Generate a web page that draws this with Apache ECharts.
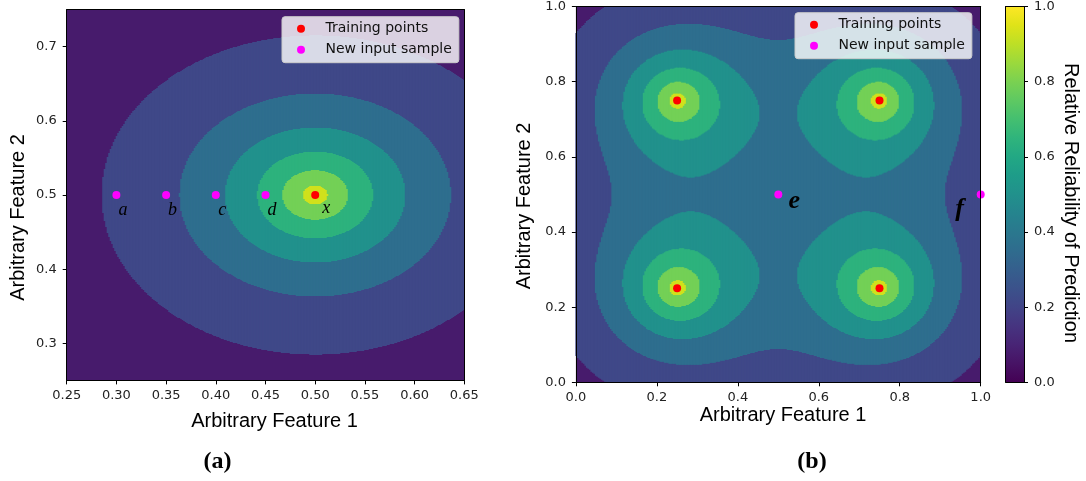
<!DOCTYPE html>
<html>
<head>
<meta charset="utf-8">
<script src="https://cdn.jsdelivr.net/npm/echarts@6/dist/echarts.min.js"></script>
<style>
  html, body { margin: 0; padding: 0; background: #fff; }
  #main { width: 1086px; height: 481px; }
</style>
</head>
<body>
<div id="main"></div>
<script>
// panel (a): one training point, new samples a-d on the line y = 0.5
const trainA = [[0.5, 0.5]];
const trainNamesA = ['x'];
const samplesA = [[0.30, 0.5], [0.35, 0.5], [0.40, 0.5], [0.45, 0.5]];
const sampleNamesA = ['a', 'b', 'c', 'd'];

// panel (b): four training points, new samples e and f
const trainB = [[0.25, 0.25], [0.25, 0.75], [0.75, 0.25], [0.75, 0.75]];
const samplesB = [[0.5, 0.5], [1.0, 0.5]];
const sampleNamesB = ['e', 'f'];

// width of the reliability kernel
const kernelA = 0.113;
const kernelB = 0.158;

// filled contour levels
const levels = [0, 0.15, 0.3, 0.45, 0.6, 0.75, 0.9, 1.05];
const colorbarRange = [0, 1];

// tick labels
const xTicksA = [0.25, 0.30, 0.35, 0.40, 0.45, 0.50, 0.55, 0.60, 0.65];
const yTicksA = [0.3, 0.4, 0.5, 0.6, 0.7];
const ticksB = [0, 0.2, 0.4, 0.6, 0.8, 1.0];
const colorbarTicks = [0, 0.2, 0.4, 0.6, 0.8, 1.0];

const bandColors = ['#471b6c', '#3f4888', '#2e6e8e', '#21918c', '#2db27d', '#73d056', '#d0e11c'];
const viridis = ['#440154', '#471365', '#482475', '#463480', '#414487', '#3b528b', '#355f8d',
  '#2f6c8e', '#2a788e', '#25848e', '#21918c', '#1e9c89', '#22a884', '#2fb47c', '#44bf70',
  '#5ec962', '#7ad151', '#9bd93c', '#bddf26', '#dfe318', '#fde725'];

const reliability = (x, y, pts, s) => {
  let sum = 0;
  for (const p of pts) {
    sum += Math.exp(-Math.hypot(x - p[0], y - p[1]) / s);
  }
  return sum;
};

// sample the field (relative to a training point) and turn every column into
// vertical runs per contour level: [x, yLow, yHigh, level]; lower levels come first.
// the lowest band is the grid background
const buildRuns = (pts, s, x0, x1, y0, y1, nx, ny) => {
  const peak = reliability(pts[0][0], pts[0][1], pts, s);
  const dx = (x1 - x0) / nx;
  const dy = (y1 - y0) / ny;
  const field = [];
  for (let i = 0; i < nx; i++) {
    const col = [];
    for (let j = 0; j < ny; j++) {
      col.push(reliability(x0 + (i + 0.5) * dx, y0 + (j + 0.5) * dy, pts, s) / peak);
    }
    field.push(col);
  }
  const runs = [];
  for (let k = 1; k < levels.length - 1; k++) {
    for (let i = 0; i < nx; i++) {
      let start = -1;
      for (let j = 0; j <= ny; j++) {
        const inside = j < ny && field[i][j] >= levels[k];
        if (inside && start < 0) start = j;
        if (!inside && start >= 0) {
          runs.push([x0 + (i + 0.5) * dx, y0 + start * dy, y0 + j * dy, levels[k]]);
          start = -1;
        }
      }
    }
  }
  return runs;
};

const nxA = 265, nyA = 371;
const nxB = 270, nyB = 377;
const runsA = buildRuns(trainA, kernelA, 0.25, 0.65, 0.25, 0.75, nxA, nyA);
const runsB = buildRuns(trainB, kernelB, 0, 1, 0, 1, nxB, nyB);

// each run is a rect, grown by half a pixel so it meets its neighbours
const runRenderer = (dx) => (params, api) => {
  const x = api.value(0);
  const p0 = api.coord([x - dx / 2, api.value(2)]);
  const p1 = api.coord([x + dx / 2, api.value(1)]);
  return {
    type: 'rect',
    shape: { x: p0[0] - 0.5, y: p0[1] - 0.5, width: p1[0] - p0[0] + 1, height: p1[1] - p0[1] + 1 },
    style: { fill: api.visual('color') },
  };
};

const fieldSeries = (xAxisIndex, yAxisIndex, data, dx) => ({
  type: 'custom', xAxisIndex, yAxisIndex, data, clip: true, silent: true,
  progressive: 0, renderItem: runRenderer(dx),
});

const colorbarRenderer = (params, api) => {
  const p0 = api.coord([0, api.value(1)]);
  const p1 = api.coord([1, api.value(0)]);
  return {
    type: 'rect',
    shape: { x: p0[0], y: p0[1], width: p1[0] - p0[0], height: p1[1] - p0[1] },
    style: {
      fill: new echarts.graphic.LinearGradient(0, 1, 0, 0,
        viridis.map((color, k) => ({ offset: k / (viridis.length - 1), color }))),
    },
  };
};

const tickFont = { fontFamily: 'DejaVu Sans', fontSize: 13, color: '#222' };
const black = { color: '#000', width: 1 };

const valueAxis = (gridIndex, position, min, max, ticks, digits) => ({
  type: 'value', gridIndex, position, min, max, z: 5,
  splitLine: { show: false },
  axisLine: { show: true, onZero: false, lineStyle: black },
  axisTick: { show: true, length: 4, customValues: ticks, lineStyle: black },
  axisLabel: {
    customValues: ticks, margin: (position === 'bottom' ? 9 : 10),
    formatter: (v) => v.toFixed(digits), ...tickFont,
  },
});

// axis used only for the frame line on the opposite side
const frameAxis = (gridIndex, position, min, max) => ({
  type: 'value', gridIndex, position, min, max, z: 5,
  axisLine: { show: true, onZero: false, lineStyle: black },
  axisTick: { show: false },
  axisLabel: { show: false },
  splitLine: { show: false },
});

const legendBox = (left, top) => ({
  orient: 'vertical', left, top,
  data: ['Training points', 'New input sample'],
  icon: 'circle', itemWidth: 27, itemHeight: 8, itemGap: 5,
  padding: [4, 7, 5, 15],
  backgroundColor: 'rgba(255,255,255,0.8)', borderColor: '#cccccc', borderWidth: 1, borderRadius: 3,
  textStyle: { fontFamily: 'DejaVu Sans', fontSize: 14, lineHeight: 16, color: '#111', padding: [0, 0, 0, 6] },
  selectedMode: false,
});

const pointLabel = (names, offset, font) => ({
  show: true, position: 'inside', offset, color: '#000',
  formatter: (p) => names[p.dataIndex], ...font,
});

const italicSerif = { fontFamily: 'Liberation Serif', fontStyle: 'italic', fontSize: 18 };
const boldItalicSerif = { fontFamily: 'Liberation Serif', fontStyle: 'italic', fontWeight: 'bold', fontSize: 26 };
const labelOffsetsB = [[16, 7], [-21, 15]];

const titleText = (text, x, y, rotation, font) => ({
  type: 'text', x, y, rotation, z: 10,
  style: { text, font, fill: '#000', align: 'center', verticalAlign: 'middle' },
});
const titleFont = '20px "Liberation Sans"';
const panelFont = 'bold 24px "Liberation Serif"';

const fieldGrid = { show: true, borderWidth: 0, backgroundColor: bandColors[0] };

const chart = echarts.init(document.getElementById('main'));

const option = {
  animation: false,
  grid: [
    { ...fieldGrid, left: 66.7, top: 9.6, width: 397.6, height: 370.8 },
    { ...fieldGrid, left: 575.9, top: 5, width: 404.8, height: 377.3 },
    { left: 1005.7, top: 5, width: 18.3, height: 377.3 },
  ],
  xAxis: [
    valueAxis(0, 'bottom', 0.25, 0.65, xTicksA, 2),
    frameAxis(0, 'top', 0.25, 0.65),
    valueAxis(1, 'bottom', 0, 1, ticksB, 1),
    frameAxis(1, 'top', 0, 1),
    frameAxis(2, 'bottom', 0, 1),
    frameAxis(2, 'top', 0, 1),
  ],
  yAxis: [
    valueAxis(0, 'left', 0.25, 0.75, yTicksA, 1),
    frameAxis(0, 'right', 0.25, 0.75),
    valueAxis(1, 'left', 0, 1, ticksB, 1),
    frameAxis(1, 'right', 0, 1),
    frameAxis(2, 'left', 0, 1),
    valueAxis(2, 'right', 0, 1, colorbarTicks, 1),
  ],
  visualMap: [{
    type: 'piecewise', show: false, seriesIndex: [0, 1], dimension: 3,
    pieces: bandColors.map((color, k) => ({ gte: levels[k], lt: levels[k + 1], color })),
  }],
  legend: [legendBox(282, 16.7), legendBox(795, 12.7)],
  series: [
    fieldSeries(0, 0, runsA, 0.4 / nxA),
    fieldSeries(2, 2, runsB, 1 / nxB),
    {
      type: 'custom', xAxisIndex: 4, yAxisIndex: 5, data: [colorbarRange], silent: true,
      renderItem: colorbarRenderer,
    },
    {
      name: 'New input sample', type: 'scatter', xAxisIndex: 0, yAxisIndex: 0,
      data: samplesA, symbolSize: 8, itemStyle: { color: '#ff00ff', opacity: 1 },
      label: pointLabel(sampleNamesA, [6.5, 15], italicSerif),
    },
    {
      name: 'Training points', type: 'scatter', xAxisIndex: 0, yAxisIndex: 0,
      data: trainA, symbolSize: 8, itemStyle: { color: '#ff0000', opacity: 1 },
      label: pointLabel(trainNamesA, [11, 13], italicSerif),
    },
    {
      name: 'New input sample', type: 'scatter', xAxisIndex: 2, yAxisIndex: 2,
      data: samplesB.map((p, i) => ({ value: p, label: { offset: labelOffsetsB[i] } })),
      symbolSize: 8, itemStyle: { color: '#ff00ff', opacity: 1 },
      label: pointLabel(sampleNamesB, [0, 0], boldItalicSerif),
    },
    {
      name: 'Training points', type: 'scatter', xAxisIndex: 2, yAxisIndex: 2,
      data: trainB, symbolSize: 8, itemStyle: { color: '#ff0000', opacity: 1 },
    },
  ],
  graphic: [
    titleText('Arbitrary Feature 1', 274.5, 421, 0, titleFont),
    titleText('Arbitrary Feature 2', 18, 217.5, Math.PI / 2, titleFont),
    titleText('Arbitrary Feature 1', 783, 415, 0, titleFont),
    titleText('Arbitrary Feature 2', 524.5, 206, Math.PI / 2, titleFont),
    titleText('Relative Reliability of Prediction', 1070.7, 203, -Math.PI / 2, titleFont),
    titleText('(a)', 217.5, 462, 0, panelFont),
    titleText('(b)', 812, 462, 0, panelFont),
  ],
};

chart.setOption(option);
</script>
</body>
</html>
